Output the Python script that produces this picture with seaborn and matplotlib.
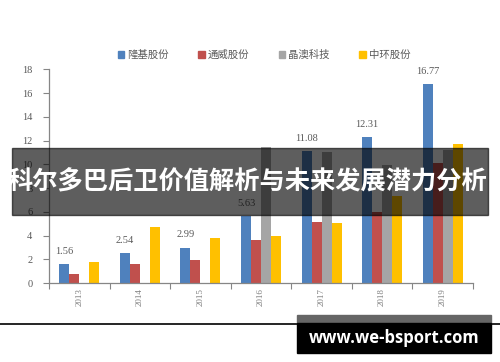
import matplotlib
matplotlib.use("Agg")
import matplotlib.pyplot as plt
import matplotlib.patches as mpatches
from matplotlib.lines import Line2D
import seaborn as sns
import pandas as pd

years = ["2013", "2014", "2015", "2016", "2017", "2018", "2019"]
companies = ["隆基股份", "通威股份", "晶澳科技", "中环股份"]
longi = [1.56, 2.54, 2.99, 5.63, 11.08, 12.31, 16.77]
tongwei = [0.80, 1.57, 1.93, 3.65, 5.12, 6.00, 10.08]
jingao = [0.0, 0.0, 0.0, 11.48, 11.07, 9.95, 11.20]
zhonghuan = [1.74, 4.68, 3.82, 3.95, 5.03, 7.30, 11.72]
colors = ["#4F81BD", "#C0504D", "#A5A5A5", "#FFC000"]
banner_text = "科尔多巴后卫价值解析与未来发展潜力分析"
watermark = "www.we-bsport.com"

rows = []
for comp, vals in zip(companies, [longi, tongwei, jingao, zhonghuan]):
    for y, v in zip(years, vals):
        rows.append({"year": y, "company": comp, "value": v})
df = pd.DataFrame(rows)

sns.set_theme(style="white")
plt.rcParams["font.family"] = ["Noto Sans CJK SC", "DejaVu Sans"]

fig = plt.figure(figsize=(5.0, 3.62), dpi=100)
ax = fig.add_axes([0.098, 0.2182, 0.848, 0.5904])

sns.barplot(data=df, x="year", y="value", hue="company", order=years,
            hue_order=companies, palette=colors, width=0.66, linewidth=0,
            saturation=1, ax=ax, legend=False)

ax.set_ylim(0, 18)
ax.set_xlim(-0.5, len(years) - 0.5)
ax.set_yticks(range(0, 19, 2))
ax.set_xlabel("")
ax.set_ylabel("")
gray = "#595959"
axis_c = "#868686"
for lab in ax.get_yticklabels():
    lab.set_fontfamily("Liberation Serif")
    lab.set_fontsize(7.5)
    lab.set_color(gray)
ax.set_xticks(range(len(years)))
ax.set_xticklabels(years, rotation=90, fontfamily="Liberation Serif",
                   fontsize=6.5, color="#7f7f7f")
ax.set_xticks([i + 0.5 for i in range(-1, len(years))], minor=True)
ax.tick_params(axis="x", which="major", length=0, pad=4)
ax.tick_params(axis="x", which="minor", length=4, width=0.8, color=axis_c,
               direction="out", bottom=True)
ax.tick_params(axis="y", length=4, width=0.8, color=axis_c, direction="out",
               left=True, pad=8)
for s in ["top", "right"]:
    ax.spines[s].set_visible(False)
ax.spines["left"].set_color(axis_c)
ax.spines["bottom"].set_color(axis_c)
ax.spines["left"].set_linewidth(0.9)
ax.spines["bottom"].set_linewidth(0.9)

ax.bar_label(ax.containers[0], fmt="%.2f", padding=6,
             fontfamily="Liberation Serif", fontsize=7.5, color=gray)

handles = [mpatches.Patch(color=c, label=l) for c, l in zip(colors, companies)]
leg = fig.legend(handles=handles, loc="center", bbox_to_anchor=(0.528, 1 - 55 / 362),
                 ncol=4, frameon=False, fontsize=7.5, handlelength=0.6,
                 handleheight=0.6, handletextpad=0.3, columnspacing=2.85)
for t in leg.get_texts():
    t.set_color(gray)

W, H = 500.0, 362.0
# banner
fig.patches.append(mpatches.Rectangle((12 / W, 1 - 215 / H), 476 / W, 67 / H,
                                      transform=fig.transFigure, color="black",
                                      alpha=0.63, zorder=10))
fig.text(247 / W, 1 - 182 / H, banner_text, ha="center", va="center",
         color="white", fontsize=18.2, fontweight="bold", zorder=11,
         fontfamily=["Noto Sans CJK SC", "DejaVu Sans"])

# bottom line and watermark
fig.add_artist(Line2D([0, 1], [1 - 323.5 / H] * 2, transform=fig.transFigure,
                      color="black", linewidth=1.2, zorder=9))
fig.patches.append(mpatches.Rectangle((297 / W, 1 - 323 / H), 194 / W, 8 / H,
                                      transform=fig.transFigure, color="#666666",
                                      zorder=10))
fig.patches.append(mpatches.Rectangle((297 / W, 1 - 353 / H), 194 / W, 30 / H,
                                      transform=fig.transFigure, color="black",
                                      zorder=10))
fig.text(394 / W, 1 - 338 / H, watermark, ha="center", va="center",
         color="white", fontsize=12, fontweight="bold", zorder=11,
         fontfamily="Open Sans")

fig.savefig("out.png", dpi=100)
